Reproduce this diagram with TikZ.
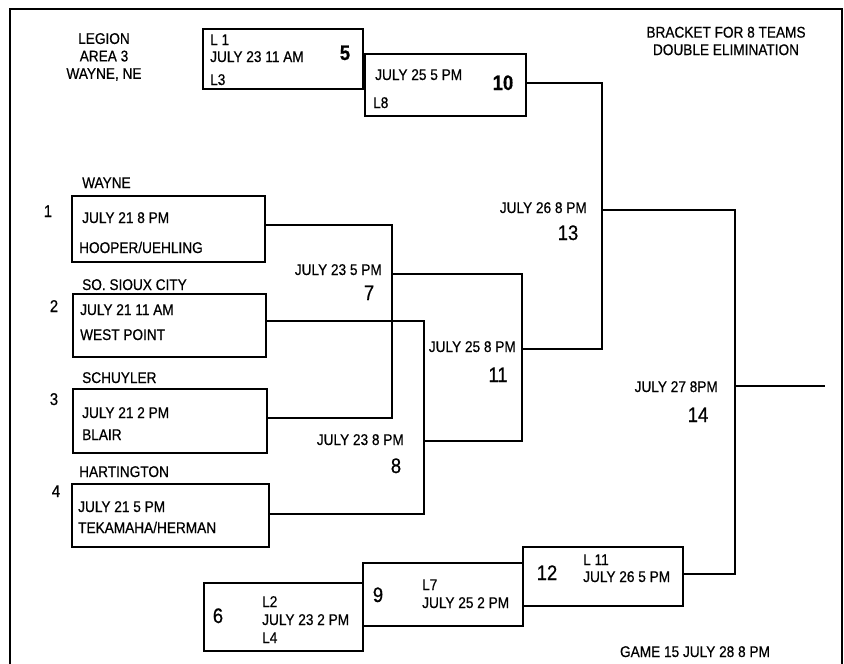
\documentclass[tikz,border=0pt]{standalone}
\usepackage{fontspec}
\setmainfont{Liberation Sans}[FakeStretch=0.88,FakeBold=0.6]
\usepackage{tikz}
\newcommand{\txt}{\fontsize{15.5}{17.5}\selectfont}
\newcommand{\gnum}{\fontsize{21}{21}\selectfont}
\newcommand{\seed}{\fontsize{17}{17}\selectfont}

\begin{document}
\begin{tikzpicture}[x=1pt,y=-1pt,font=\txt,
 bx/.style={draw,line width=2pt,inner sep=0pt},ln/.style={line width=2pt},
 t/.style={anchor=base west,inner sep=0pt},tr/.style={anchor=base east,inner sep=0pt},
 g/.style={anchor=base,inner sep=0pt,font=\gnum},sd/.style={anchor=base,inner sep=0pt,font=\seed}]
\useasboundingbox (0,0) rectangle (844,664);
\draw[ln] (10,664) -- (10,9) -- (842,9) -- (842,664);
\node[align=center] (hd) at (104,57) {LEGION\\AREA 3\\WAYNE, NE};
\node[align=center] (tl) at (726,41) {BRACKET FOR 8 TEAMS\\DOUBLE ELIMINATION};
% first round
\node[bx,minimum width=193pt,minimum height=66pt] (b1) at (168.5,229) {};
\node[bx,minimum width=193pt,minimum height=63pt] (b2) at (169.5,325.5) {};
\node[bx,minimum width=194pt,minimum height=64pt] (b3) at (170,421) {};
\node[bx,minimum width=197pt,minimum height=63pt] (b4) at (170.5,515.5) {};
\node[t] (n1) at (82,188) {WAYNE};
\node[sd] (s1) at (48,217) {1};
\node[t] (d1) at (82,223) {JULY 21 8 PM};
\node[t] (o1) at (79,253) {HOOPER/UEHLING};
\node[t] (n2) at (82,290) {SO. SIOUX CITY};
\node[sd] (s2) at (54,312) {2};
\node[t] (d2) at (80,315) {JULY 21 11 AM};
\node[t] (o2) at (80,340) {WEST POINT};
\node[t] (n3) at (82,383) {SCHUYLER};
\node[sd] (s3) at (54,405) {3};
\node[t] (d3) at (82,418) {JULY 21 2 PM};
\node[t] (o3) at (82,440) {BLAIR};
\node[t] (n4) at (79,477) {HARTINGTON};
\node[sd] (s4) at (56,497) {4};
\node[t] (d4) at (78,512) {JULY 21 5 PM};
\node[t] (o4) at (78,533) {TEKAMAHA/HERMAN};
% losers' side
\node[bx,minimum width=160pt,minimum height=60pt] (b5) at (283,59) {};
\node[bx,minimum width=161pt,minimum height=62pt] (b10) at (445.5,85) {};
\node[bx,minimum width=159pt,minimum height=68pt] (b6) at (283.5,617) {};
\node[bx,minimum width=160pt,minimum height=63pt] (b9) at (443,594.5) {};
\node[bx,minimum width=160pt,minimum height=59pt] (b12) at (603,576.5) {};
\node[t] (l1) at (210,45) {L 1};
\node[t] (d5) at (210,62) {JULY 23 11 AM};
\node[t] (l3) at (210,85) {L3};
\node[g,font=\gnum\bfseries] (g5) at (345,60) {5};
\node[t] (d10) at (375,80) {JULY 25 5 PM};
\node[g,font=\gnum\bfseries] (g10) at (503,90) {10};
\node[t] (l8) at (373,108) {L8};
\node[g] (g6) at (218,623) {6};
\node[t] (l2) at (262,607) {L2};
\node[t] (d6) at (262,625) {JULY 23 2 PM};
\node[t] (l4) at (262,643) {L4};
\node[g] (g9) at (378,602) {9};
\node[t] (l7) at (422,590) {L7};
\node[t] (d9) at (422,608) {JULY 25 2 PM};
\node[g] (g12) at (547,580) {12};
\node[t] (l11) at (583,565) {L 11};
\node[t] (d12) at (583,582) {JULY 26 5 PM};
% game labels
\node[tr] (d7) at (382,275) {JULY 23 5 PM};
\node[g] (g7) at (369,300) {7};
\node[tr] (d8) at (404,445) {JULY 23 8 PM};
\node[g] (g8) at (396,473) {8};
\node[tr] (d11) at (516,352) {JULY 25 8 PM};
\node[g] (g11) at (498,382) {11};
\node[tr] (d13) at (587,213) {JULY 26 8 PM};
\node[g] (g13) at (568,240) {13};
\node[tr] (d14) at (718,392) {JULY 27 8PM};
\node[g] (g14) at (698,422) {14};
\node[anchor=base,inner sep=0pt] (fn) at (695,657) {GAME 15 JULY 28 8 PM};
% bracket lines
\coordinate (j7) at (392,274);
\coordinate (j8) at (424,441);
\coordinate (j11) at (522,349);
\coordinate (j13) at (602,210);
\coordinate (j14) at (735,386);
\coordinate (win) at (825,386);
\draw[ln] ([yshift=4pt]b1.east) -| (j7) |- ([yshift=3pt]b3.east);
\draw[ln] ([yshift=5pt]b2.east) -| (j8) |- ([yshift=2pt]b4.east);
\draw[ln] (j7) -| (j11) |- (j8);
\draw[ln] ([yshift=2pt]b10.east) -| (j13) |- (j11);
\draw[ln] (j13) -| (j14) |- ([yshift=3pt]b12.east);
\draw[ln] (j14) -- (win);
\end{tikzpicture}
\end{document}
